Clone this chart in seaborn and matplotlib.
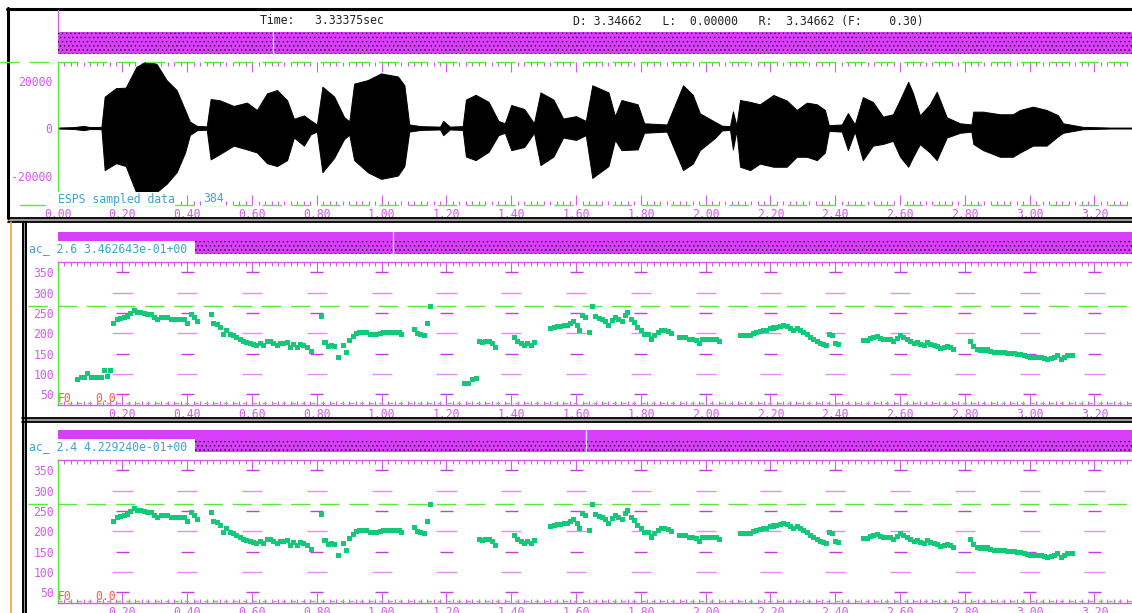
import matplotlib
matplotlib.use("Agg")

import matplotlib.pyplot as plt
import seaborn as sns
import pandas as pd
from matplotlib.patches import Rectangle
from matplotlib.ticker import MultipleLocator

# waveform envelope (sec, upper, lower)
wave_t = [0.00, 0.05, 0.08, 0.10, 0.135, 0.145, 0.18, 0.21, 0.243, 0.273, 0.305, 0.336,
          0.367, 0.393, 0.408, 0.43, 0.46, 0.472, 0.50, 0.543, 0.584, 0.615, 0.646, 0.677,
          0.708, 0.729, 0.76, 0.781, 0.80, 0.817, 0.853, 0.884, 0.90, 0.915, 0.957, 0.998,
          1.05, 1.07, 1.085, 1.12, 1.18, 1.19, 1.21, 1.25, 1.26, 1.29, 1.33, 1.36, 1.38,
          1.40, 1.44, 1.47, 1.49, 1.53, 1.56, 1.60, 1.63, 1.65, 1.70, 1.72, 1.74, 1.79,
          1.81, 1.88, 1.93, 1.96, 1.982, 2.03, 2.05, 2.075, 2.084, 2.095, 2.106, 2.137,
          2.167, 2.209, 2.25, 2.281, 2.312, 2.343, 2.368, 2.38, 2.42, 2.439, 2.46, 2.485,
          2.516, 2.547, 2.578, 2.60, 2.625, 2.64, 2.661, 2.692, 2.713, 2.744, 2.785, 2.82,
          2.826, 2.856, 2.908, 2.948, 2.97, 3.01, 3.052, 3.087, 3.103, 3.164, 3.25, 3.32]
wave_hi = [200, 400, 900, 400, 500, 13200, 16800, 17000, 25800, 28000, 27000, 20200,
           16000, 7600, 2700, 900, 700, 12200, 11700, 9300, 10700, 7600, 14600, 16000,
           11700, 3900, 5300, 3200, 1500, 17400, 13300, 4600, 2800, 18700, 20200, 23000,
           21700, 18000, 1500, 800, 600, 3000, 600, 800, 12000, 14000, 11000, 3000, 2000,
           9700, 8000, 2000, 15000, 12000, 4000, 5000, 3000, 18000, 15000, 5000, 11800, 10000,
           2000, 1500, 18000, 14000, 6200, 2500, 1000, 800, 7000, 1000, 11800, 11000,
           10000, 13900, 11600, 7600, 10700, 10000, 7600, 1200, 1500, 6300, 1500, 13000,
           11000, 4800, 5800, 12000, 19500, 14600, 5300, 10000, 15300, 4500, 2000, 1500,
           6900, 6900, 5800, 5800, 7600, 9000, 7600, 5400, 2000, 500, 200, 200]
wave_lo = [-200, -400, -900, -400, -500, -17700, -14800, -16000, -27400, -27400, -27000, -23500,
           -18600, -10300, -2900, -900, -700, -13200, -11000, -7400, -9000, -10300, -14800, -16000,
           -13500, -4000, -7400, -2600, -1500, -18600, -12600, -4600, -2800, -13500, -18600, -21400,
           -20000, -16000, -1500, -800, -600, -3000, -600, -800, -12000, -13500, -10000, -3000, -2000,
           -9300, -8000, -2000, -15600, -12000, -4000, -5000, -3000, -21000, -16000, -5000, -9300, -9000,
           -2000, -1500, -17700, -15000, -9300, -4000, -1000, -800, -9000, -1000, -16300, -17700,
           -15000, -16300, -16300, -12100, -12100, -13500, -10300, -1200, -1500, -9300, -1500, -13500,
           -7400, -6700, -5400, -12100, -16300, -12100, -6800, -10300, -13500, -4000, -2000, -1500,
           -6700, -9300, -12100, -12100, -10300, -7400, -7400, -3500, -2000, -500, -200, -200]

# F0 track shared by both pitch panels (sec, Hz)
f0_t = [0.172, 0.184, 0.195, 0.205, 0.215, 0.226, 0.236, 0.246, 0.257, 0.267, 0.277, 0.288,
        0.298, 0.308, 0.319, 0.329, 0.340, 0.350, 0.360, 0.371, 0.381, 0.391, 0.402, 0.414,
        0.422, 0.433,
        0.474, 0.482, 0.493, 0.503, 0.511, 0.522, 0.532, 0.543, 0.553, 0.563, 0.574, 0.584,
        0.594, 0.605, 0.615, 0.625, 0.636, 0.646, 0.656, 0.667, 0.677, 0.688, 0.698, 0.708,
        0.718, 0.729, 0.739, 0.750, 0.760, 0.770, 0.783,
        0.815, 0.825, 0.835, 0.845, 0.855, 0.866, 0.881, 0.892, 0.902, 0.912, 0.923, 0.933,
        0.943, 0.954, 0.964, 0.974, 0.985, 0.995, 1.006, 1.016, 1.026, 1.036, 1.047, 1.054,
        1.062, 1.101, 1.111, 1.121, 1.132, 1.141, 1.150,
        1.301, 1.311, 1.321, 1.332, 1.342, 1.352,
        1.409, 1.420, 1.430, 1.440, 1.451, 1.461, 1.471,
        1.522, 1.533, 1.543, 1.553, 1.564, 1.574, 1.584, 1.593, 1.603, 1.611, 1.619, 1.630,
        1.642, 1.650, 1.659, 1.671, 1.682, 1.692, 1.700, 1.711, 1.721, 1.731, 1.742, 1.752,
        1.760, 1.771, 1.781, 1.791, 1.802, 1.812, 1.822, 1.833, 1.843, 1.853, 1.864, 1.874,
        1.885, 1.893,
        1.919, 1.929, 1.939, 1.950, 1.960, 1.971, 1.981, 1.991, 2.002, 2.012, 2.022, 2.033, 2.043,
        2.106, 2.117, 2.127, 2.137, 2.148, 2.158, 2.168, 2.179, 2.189, 2.199, 2.210, 2.220,
        2.230, 2.241, 2.251, 2.261, 2.272, 2.282, 2.293, 2.303, 2.313, 2.324, 2.334, 2.344,
        2.355, 2.365, 2.373, 2.381, 2.391, 2.401, 2.411,
        2.488, 2.499, 2.509, 2.519, 2.530, 2.540, 2.550, 2.561, 2.571, 2.581, 2.592, 2.602,
        2.612, 2.623, 2.633, 2.643, 2.654, 2.664, 2.674, 2.685, 2.695, 2.706, 2.716, 2.726,
        2.737, 2.747, 2.757, 2.765,
        2.817, 2.828, 2.838, 2.849, 2.859, 2.869, 2.880, 2.890, 2.900, 2.911, 2.921, 2.931,
        2.942, 2.952, 2.962, 2.973, 2.983, 2.993, 3.004, 3.014, 3.024, 3.035, 3.045, 3.055,
        3.066, 3.076, 3.086, 3.097, 3.107, 3.117, 3.128, 3.133]
f0_hz = [225, 233, 237, 238, 241, 249, 255, 251, 250, 249, 247, 245,
         239, 235, 238, 238, 238, 235, 234, 234, 233, 233, 225, 247,
         239, 229,
         246, 225, 221, 215, 197, 207, 198, 194, 190, 185, 180, 177,
         174, 172, 169, 176, 169, 180, 179, 176, 169, 174, 176, 178,
         166, 172, 164, 172, 171, 166, 155,
         242, 177, 167, 169, 167, 141, 169, 154, 182, 192, 200, 202,
         203, 202, 198, 197, 198, 200, 202, 202, 203, 203, 203, 202,
         197, 210, 200, 197, 194, 223, 265,
         180, 177, 180, 180, 176, 164,
         189, 180, 176, 169, 176, 169, 177,
         212, 215, 216, 217, 220, 218, 223, 229, 220, 206, 243, 238,
         202, 265, 241, 237, 233, 229, 219, 231, 238, 235, 229, 243,
         252, 233, 227, 215, 207, 198, 197, 186, 194, 202, 208, 207,
         205, 200,
         190, 189, 189, 184, 185, 182, 174, 184, 185, 184, 184, 184, 179,
         195, 195, 194, 194, 200, 203, 205, 207, 208, 211, 213, 215,
         216, 219, 216, 211, 208, 211, 208, 202, 196, 190, 184, 180,
         176, 172, 169, 198, 194, 176, 172,
         182, 182, 188, 190, 193, 188, 185, 184, 185, 180, 187, 194,
         190, 185, 180, 174, 177, 172, 169, 177, 172, 170, 167, 162,
         164, 167, 166, 161,
         180, 167, 161, 159, 159, 159, 156, 154, 153, 153, 153, 151,
         150, 150, 149, 148, 145, 143, 141, 141, 141, 140, 138, 136,
         138, 140, 145, 136, 141, 145, 146, 146]

# low-pitch frames that only the first pitch panel shows
low_t = [0.062, 0.072, 0.083, 0.093, 0.104, 0.114, 0.124, 0.135, 0.145, 0.153, 0.163,
         1.257, 1.267, 1.280, 1.293]
low_hz = [87, 91, 92, 102, 92, 92, 92, 92, 109, 94, 108,
          76, 76, 86, 88]

time_ticks = [0.0, 0.2, 0.4, 0.6, 0.8, 1.0, 1.2, 1.4, 1.6, 1.8, 2.0, 2.2, 2.4, 2.6, 2.8, 3.0, 3.2]
time_labels = ["0.00", "0.20", "0.40", "0.60", "0.80", "1.00", "1.20", "1.40", "1.60",
               "1.80", "2.00", "2.20", "2.40", "2.60", "2.80", "3.00", "3.20"]
wave_ticks = [-20000, 0, 20000]
wave_labels = ["-20000", "0", "20000"]
f0_ticks = [50, 100, 150, 200, 250, 300, 350]
f0_labels = ["50", "100", "150", "200", "250", "300", "350"]
ref_hz = 266  # green dashed reference line

header_time = "Time:   3.33375sec"
header_range = "D: 3.34662   L:  0.00000   R:  3.34662 (F:    0.30)"
panel_tags = ["ac_ 2.6 3.462643e-01+00", "ac_ 2.4 4.229240e-01+00"]

MAG = "#d35ce8"
MAG_DARK = "#c83ae6"
MAG_LIGHT = "#e38ef2"
BAR = "#d83ff8"
GREEN = "#5ae83a"
DOT = "#12c97a"
CYAN = "#3aa6cc"
RED = "#ff5a3c"

W, H = 1132, 613
X0 = 57.7
XMAX = (W - X0) / 324.0

sns.set_style("white")
plt.rcParams["font.family"] = ["DejaVu Sans Mono"]
plt.rcParams["font.size"] = 8.3
plt.rcParams["hatch.linewidth"] = 0.45

fig = plt.figure(figsize=(W / 100, H / 100), dpi=100)


def pix_axes(x0, y0, x1, y1):
    return fig.add_axes([x0 / W, 1 - y1 / H, (x1 - x0) / W, (y1 - y0) / H])


def time_axis(ax, show_zero):
    ax.set_xlim(0, XMAX)
    ax.set_xticks(time_ticks)
    ax.set_xticklabels(time_labels if show_zero else [""] + time_labels[1:])
    ax.xaxis.set_minor_locator(MultipleLocator(0.02))
    ax.tick_params(axis="x", which="both", direction="in", top=True, bottom=True,
                   color=MAG, labelcolor=MAG, pad=2.5, width=0.8)
    ax.tick_params(axis="x", which="major", length=7)
    ax.tick_params(axis="x", which="minor", length=3)
    ax.spines["left"].set_color(GREEN)
    ax.spines["left"].set_linewidth(1.0)
    ax.spines["right"].set_visible(False)


# waveform panel
ax_w = pix_axes(X0, 62, W, 205)
ax_w.fill_between(wave_t, wave_lo, wave_hi, color="black", lw=0.7)
ax_w.set_ylim(-32400, 27800)
time_axis(ax_w, True)
ax_w.set_yticks(wave_ticks)
ax_w.set_yticklabels(wave_labels)
ax_w.yaxis.set_minor_locator(MultipleLocator(2000))
ax_w.tick_params(axis="y", which="both", direction="in", color=MAG, labelcolor=MAG, pad=4, width=0.8)
ax_w.tick_params(axis="y", which="major", length=8)
ax_w.tick_params(axis="y", which="minor", length=3)
ax_w.spines["top"].set_visible(False)
ax_w.spines["bottom"].set_visible(False)
for yy in (0, 1):
    ax_w.plot([0, 1], [yy, yy], transform=ax_w.transAxes, color=GREEN, lw=1.0,
              dashes=(14, 7), clip_on=False)

# pitch panels
pitch_boxes = [(262, 405), (460, 603)]
pitch_sets = [
    pd.DataFrame({"t": f0_t + low_t, "hz": f0_hz + low_hz}),
    pd.DataFrame({"t": f0_t, "hz": f0_hz}),
]
for (y0, y1), df in zip(pitch_boxes, pitch_sets):
    ax = pix_axes(X0, y0, W, y1)
    ax.set_ylim(24, 375)
    time_axis(ax, False)
    ax.set_yticks(f0_ticks)
    ax.set_yticklabels(f0_labels)
    ax.yaxis.set_minor_locator(MultipleLocator(10))
    ax.tick_params(axis="y", which="both", direction="in", color=MAG, labelcolor=MAG, pad=2.5, width=0.8)
    ax.tick_params(axis="y", which="major", length=8)
    ax.tick_params(axis="y", which="minor", length=3)
    for side in ("top", "bottom"):
        ax.spines[side].set_color(MAG)
        ax.spines[side].set_linewidth(1.0)

    # dash grid centred on the major time ticks
    for lev in f0_ticks:
        long_dash = lev % 100 == 0
        hw = 0.031 if long_dash else 0.02
        for t in time_ticks[1:]:
            ax.hlines(lev, t - hw, t + hw, color=MAG_LIGHT if long_dash else MAG_DARK, lw=1.0)

    ax.plot([-0.028, 1], [ref_hz, ref_hz], transform=ax.get_yaxis_transform(),
            color=GREEN, lw=1.0, dashes=(14, 7), clip_on=False)
    ax.plot([0, 1], [0.012, 0.012], transform=ax.transAxes, color=GREEN, lw=1.0,
            dashes=(3, 4), clip_on=False)

    sns.scatterplot(data=df, x="t", y="hz", marker="s", s=13, color=DOT,
                    edgecolor="none", ax=ax, legend=False, zorder=3)
    ax.set_xlabel("")
    ax.set_ylabel("")

# window chrome drawn in pixel coordinates on top
ov = fig.add_axes([0, 0, 1, 1], zorder=10)
ov.set_xlim(0, W)
ov.set_ylim(H, 0)
ov.axis("off")
ov.patch.set_visible(False)

ov.plot([7, W], [8.5, 8.5], color="black", lw=2.2)
ov.plot([8, 8], [8, 218], color="black", lw=2.2)
ov.plot([X0, X0], [10, 32], color=MAG, lw=1.0)
ov.text(260, 21, header_time, color="#222222", va="center", ha="left")
ov.text(573, 21, header_range, color="#222222", va="center", ha="left")

ov.add_patch(Rectangle((X0, 32), W - X0, 22, facecolor=BAR, edgecolor="black",
                       hatch="....", lw=0))
ov.plot([273, 273], [32, 54], color="#bfe3ea", lw=1.0)
ov.plot([0, X0], [62, 62], color=GREEN, lw=1.0, dashes=(14, 7))
ov.plot([20, 45], [205, 205], color=GREEN, lw=1.0)

ov.text(X0, 199, "ESPS sampled data", color=CYAN, va="center", ha="left",
        bbox=dict(facecolor="white", edgecolor="none", pad=0.5))
ov.text(203, 199, "384", color=CYAN, va="center", ha="left",
        bbox=dict(facecolor="white", edgecolor="none", pad=0.5))

# separators between panels
for ya, yb, xa in ((217.5, 222, 8), (417.5, 422, 22)):
    ov.add_patch(Rectangle((xa, ya), W - xa, yb - ya, facecolor="#9a9a9a", edgecolor="none"))
    ov.plot([xa, W], [ya, ya], color="black", lw=1.3)
    ov.plot([xa, W], [yb, yb], color="black", lw=1.3)

ov.plot([11, 11], [222, H], color="#f5a623", lw=1.2)
ov.plot([22.5, 22.5], [222, H], color="black", lw=1.4)
ov.plot([26, 26], [222, H], color="black", lw=1.4)
ov.add_patch(Rectangle((23, 222), 3, H - 222, facecolor="#9a9a9a", edgecolor="none"))

bar_tops = [232, 430]
cursors = [393, 586]
for top, cx, tag, (y0, y1) in zip(bar_tops, cursors, panel_tags, pitch_boxes):
    ov.add_patch(Rectangle((X0, top), W - X0, 9, facecolor=BAR, edgecolor="none"))
    ov.add_patch(Rectangle((X0, top + 9), W - X0, 13, facecolor=BAR, edgecolor="black",
                           hatch="....", lw=0))
    ov.add_patch(Rectangle((27, top + 9), 168, 14, facecolor="white", edgecolor="none"))
    ov.plot([cx, cx], [top, top + 22], color="#bfe3ea", lw=1.0)
    ov.text(29, top + 16.5, tag, color=CYAN, va="center", ha="left")
    ov.text(X0, y1 - 7, "F0", color=RED, va="center", ha="left")
    ov.text(95, y1 - 7, "0.0", color=RED, va="center", ha="left")

fig.savefig("out.png", dpi=100, facecolor="white")
